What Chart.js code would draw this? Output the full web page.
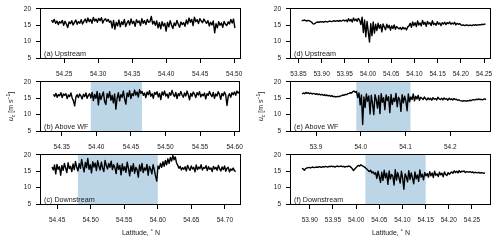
<!DOCTYPE html>
<html><head><meta charset="utf-8">
<script src="https://cdn.jsdelivr.net/npm/chart.js@4"></script>
<style>
html,body{margin:0;padding:0;background:#fff;width:500px;height:242px;overflow:hidden;position:relative}
canvas{position:absolute}
</style></head><body>
<canvas id="pa" width="250" height="80" style="left:0;top:0;width:250px;height:80px"></canvas>
<canvas id="pb" width="250" height="80" style="left:0;top:73px;width:250px;height:80px"></canvas>
<canvas id="pc" width="250" height="96" style="left:0;top:146px;width:250px;height:96px"></canvas>
<canvas id="pd" width="250" height="80" style="left:250px;top:0;width:250px;height:80px"></canvas>
<canvas id="pe" width="250" height="80" style="left:250px;top:73px;width:250px;height:80px"></canvas>
<canvas id="pf" width="250" height="96" style="left:250px;top:146px;width:250px;height:96px"></canvas>
<script>
// ---------- data (wind speed u_c, m/s, along latitude) ----------
const panelLabels = ['(a) Upstream','(b) Above WF','(c) Downstream','(d) Upstream','(e) Above WF','(f) Downstream'];
const yTickLabels = ['5','10','15','20'];

const latA = [54.2315, 54.501];
const axisA = [54.216, 54.51];
const ticksA = ['54.25','54.30','54.35','54.40','54.45','54.50'];
const upstreamA = [16.6,15.9,16.8,15.6,16.3,15.2,16.1,15.7,16.5,15.0,16.2,15.4,14.3,16.0,15.5,16.4,15.1,15.9,16.6,15.3,16.1,15.6,16.7,15.4,16.2,
16.9,15.8,17.2,16.1,16.8,15.6,17.4,16.3,16.9,15.9,17.1,16.4,17.3,15.7,16.6,17.0,16.2,16.8,15.9,
16.3,14.2,16.5,13.8,15.9,14.8,16.6,14.5,16.1,15.2,16.8,14.6,15.7,
16.4,15.1,16.9,15.5,16.2,14.7,16.7,15.8,16.3,14.9,17.0,15.6,16.4,15.2,16.8,15.9,16.1,
17.7,15.4,16.2,
15.0,16.3,14.2,15.8,13.9,16.1,14.8,15.6,13.2,15.9,14.5,16.4,15.1,14.0,15.7,14.9,16.5,15.3,14.4,16.0,15.2,15.8,14.7,
16.6,15.4,17.2,15.9,16.8,14.9,17.5,16.1,16.7,15.5,17.0,16.3,15.8,16.9,16.2,
15.6,16.4,14.8,15.9,15.1,16.3,12.7,15.5,14.2,16.1,15.0,15.7,14.4,16.2,15.3,14.9,16.0,15.4,16.8,15.7,16.9,14.1];

const latB = [54.338, 54.607];
const axisB = [54.320, 54.608];
const ticksB = ['54.35','54.40','54.45','54.50','54.55','54.60'];
const shadeB = [54.392, 54.466];
const aboveWfB = [16.2,15.6,16.5,15.3,16.1,15.8,16.7,15.2,16.3,15.9,16.4,14.9,16.0,15.5,16.6,15.1,14.2,12.7,
15.4,16.1,15.2,16.3,15.7,14.8,16.2,15.5,16.6,15.0,15.9,16.4,
15.1,16.8,14.3,16.2,15.0,17.1,13.0,16.5,14.6,15.8,16.9,14.0,13.1,16.4,15.2,17.0,14.4,15.9,13.6,16.3,11.7,15.0,16.7,14.2,16.1,15.3,17.2,14.8,13.2,16.6,15.5,17.3,14.9,16.4,15.8,17.5,16.0,16.9,15.4,17.6,16.5,
17.1,15.9,16.6,15.2,16.9,16.1,17.3,15.6,16.4,15.0,16.8,16.2,17.0,15.4,16.5,14.6,16.9,16.0,17.2,15.7,16.3,15.1,16.7,15.9,17.4,16.2,15.5,16.8,14.9,16.4,15.8,17.1,16.0,15.3,16.6,15.7,17.2,16.1,14.5,16.5,15.6,16.9,16.3,15.2,16.7,16.0,17.0,15.4,16.2,15.8,16.6,14.8,16.4,15.9,17.1,16.1,15.5,16.8,15.0,16.3,15.7,17.0,16.2,14.7,16.5,15.8,16.9,16.0,12.8,15.6,16.4,15.3,16.7,16.1,16.9,15.9,17.2,16.6,17.0];

const latC = [54.4425, 54.716];
const axisC = [54.426, 54.724];
const ticksC = ['54.45','54.50','54.55','54.60','54.65','54.70'];
const shadeC = [54.481, 54.600];
const downstreamC = [16.3,15.4,16.9,14.2,17.1,15.6,16.4,13.8,16.8,15.3,17.4,16.0,14.6,17.6,15.8,16.5,14.9,17.2,15.5,18.0,16.2,15.1,
17.3,15.9,18.6,16.4,14.8,17.7,16.1,18.9,15.6,17.0,14.5,17.9,16.3,17.5,15.2,18.2,16.6,15.4,17.8,16.0,14.9,18.3,16.8,15.7,17.4,16.2,18.1,15.5,17.0,
16.1,14.3,17.5,15.6,16.8,13.9,17.2,15.2,16.4,14.7,17.8,15.9,13.6,16.6,15.0,17.3,14.4,16.2,15.5,13.2,16.9,15.1,17.4,14.6,16.0,15.3,17.1,13.8,16.5,15.7,14.2,17.0,15.4,13.5,12.0,
16.6,15.8,17.4,16.2,17.9,16.5,18.3,17.0,18.8,17.4,19.2,18.1,19.8,18.5,19.4,17.6,16.8,15.9,16.5,15.4,16.1,
15.6,16.4,15.1,16.8,15.9,15.3,16.6,15.7,16.2,14.8,16.9,15.5,16.3,15.8,17.0,15.4,16.1,15.9,16.7,15.2,16.4,15.6,16.0,14.9,16.5,15.7,16.2,15.3,16.8,15.8,15.1,16.3,15.5,16.6,15.0,15.9,16.2,14.8,15.7,15.3,16.0,15.2,14.9];

const latD = [53.857, 54.253];
const axisD = [53.834, 54.265];
const ticksD = ['53.85','53.90','53.95','54.00','54.05','54.10','54.15','54.20','54.25'];
const upstreamD = [16.5,16.4,16.6,16.5,16.3,16.5,16.4,16.2,16.0,
15.5,15.4,15.6,
15.9,16.0,15.9,16.1,16.0,16.1,15.9,16.2,16.1,16.0,16.2,16.3,16.1,16.2,16.4,16.2,16.3,16.4,16.2,16.5,16.3,16.4,16.6,16.3,
16.6,16.1,17.0,16.3,16.8,16.0,17.2,16.4,16.9,16.2,17.1,16.5,
15.2,17.5,12.8,16.6,11.5,16.2,13.0,9.9,15.5,11.8,16.0,12.6,15.3,
13.4,15.6,14.1,15.2,13.0,15.4,14.5,13.6,15.3,14.2,15.0,13.5,14.8,14.0,15.1,13.8,14.6,14.2,
13.9,14.3,13.7,14.4,13.9,14.2,13.6,14.5,14.8,
15.6,14.4,16.0,14.9,15.8,14.6,16.3,15.1,15.7,14.8,16.5,15.3,15.9,14.7,16.2,15.4,15.8,14.9,16.4,15.2,15.6,15.0,16.1,15.3,15.7,14.9,15.8,
15.4,15.9,15.2,15.8,15.5,16.0,15.3,15.7,15.4,15.9,15.1,15.6,15.3,15.5,
15.2,15.0,15.1,14.9,15.0,15.1,14.9,15.0,15.0,14.9,15.1,15.0,15.2,15.0,15.1,15.2,15.1,15.3,15.2,15.3,15.4];

const latE = [53.869, 54.28];
const axisE = [53.844, 54.291];
const ticksE = ['53.9','54.0','54.1','54.2'];
const shadeE = [53.99, 54.111];
const aboveWfE = [16.3,16.6,16.4,16.8,16.5,16.7,16.4,16.6,16.3,16.5,
16.4,16.2,16.4,16.1,16.3,16.0,16.2,15.9,16.1,15.8,16.0,15.7,15.9,15.6,15.8,15.5,
15.6,15.4,15.5,15.6,15.5,
15.7,15.8,16.0,15.9,16.2,16.1,16.4,16.5,16.7,16.6,17.0,17.2,16.8,17.1,
15.2,16.6,13.0,16.0,7.0,15.4,12.2,16.3,14.1,15.7,10.2,15.9,13.4,10.0,16.1,14.6,12.0,15.8,10.3,16.4,13.8,15.2,11.5,16.0,14.3,15.5,10.6,16.2,13.1,15.0,14.0,16.5,12.4,15.3,14.7,11.0,16.1,13.6,15.6,14.2,11.2,16.3,13.9,15.4,
14.6,16.3,14.2,15.6,14.8,15.9,14.4,15.3,15.0,14.6,15.4,14.8,
14.5,15.1,14.6,15.0,14.4,15.2,14.7,14.9,14.5,15.3,14.8,14.6,15.0,14.5,15.1,14.7,14.9,14.4,15.0,14.6,14.8,14.5,14.9,14.6,14.7,14.4,14.5,
14.3,14.2,14.1,14.3,14.2,14.1,14.3,14.2,14.4,14.3,14.5,
14.6,14.5,14.7,14.6,14.8,14.6,14.7,14.5,14.7,14.8,14.6];

const latF = [53.883, 54.278];
const axisF = [53.8595, 54.291];
const ticksF = ['53.90','53.95','54.00','54.05','54.10','54.15','54.20','54.25'];
const shadeF = [54.02, 54.15];
const downstreamF = [15.9,15.7,15.3,15.8,16.0,
16.1,16.2,16.0,16.2,16.3,16.1,16.2,16.3,16.2,16.4,16.3,16.2,16.4,16.3,16.5,16.4,16.3,16.5,16.4,16.6,16.4,16.5,16.3,16.5,16.6,16.4,16.5,16.6,16.4,16.5,16.3,16.5,16.4,16.6,16.5,
16.2,15.8,15.2,15.7,16.1,
16.5,16.8,16.6,17.0,16.7,16.5,16.3,
15.9,15.6,15.2,14.9,15.3,14.5,14.8,14.1,14.6,
12.8,15.0,13.4,11.6,14.7,12.2,15.3,13.0,14.4,11.0,15.1,12.6,14.0,13.5,10.8,15.5,12.3,14.6,13.1,11.4,15.0,12.9,9.5,14.2,13.3,11.8,15.2,12.5,14.5,13.0,11.2,14.8,12.7,13.9,11.9,15.4,13.2,14.1,12.4,14.6,13.6,
14.3,13.2,14.9,13.6,14.5,13.1,15.0,13.8,14.2,13.4,14.7,13.9,14.4,13.3,14.8,14.0,13.7,14.6,14.1,14.5,
14.8,14.4,15.1,14.6,15.0,14.5,15.2,14.7,15.0,14.9,15.1,14.6,14.9,14.8,
14.7,14.9,14.6,14.8,14.5,14.7,14.6,14.5,14.7,14.4,14.6,14.5,14.4,14.5];

// ---------- drawing ----------
const FONT = '"Liberation Sans", Arial, Helvetica, sans-serif';
Chart.defaults.font.family = FONT;
const TXT = '#1a1a1a';
const SHADE = '#bcd6e8';

function drawYTitle(ctx, cx, cy) {
  const parts = [
    {t:'u', f:'italic 7px ' + FONT, dy:0},
    {t:'c', f:'italic 5px ' + FONT, dy:1.6},
    {t:' [m s', f:'7px ' + FONT, dy:0},
    {t:'\u22121', f:'5px ' + FONT, dy:-2.8},
    {t:']', f:'7px ' + FONT, dy:0}
  ];
  ctx.save();
  ctx.translate(cx, cy);
  ctx.rotate(-Math.PI / 2);
  let w = 0;
  parts.forEach(p => { ctx.font = p.f; p.w = ctx.measureText(p.t).width; w += p.w; });
  let x = -w / 2;
  ctx.fillStyle = TXT;
  ctx.textBaseline = 'alphabetic';
  parts.forEach(p => { ctx.font = p.f; ctx.fillText(p.t, x, 2.5 + p.dy); x += p.w; });
  ctx.restore();
}

const extras = {
  id: 'extras',
  beforeDatasetsDraw(chart, args, o) {
    const {ctx, chartArea: a, scales: {x}} = chart;
    if (o.shade) {
      const x0 = x.getPixelForValue(o.shade[0]);
      const x1 = x.getPixelForValue(o.shade[1]);
      ctx.save();
      ctx.fillStyle = SHADE;
      ctx.fillRect(x0, a.top, x1 - x0, a.bottom - a.top);
      ctx.restore();
    }
  },
  afterDraw(chart, args, o) {
    const {ctx, chartArea: a} = chart;
    ctx.save();
    ctx.strokeStyle = '#000';
    ctx.lineWidth = 1;
    ctx.strokeRect(Math.round(a.left) - 0.5, Math.round(a.top) - 0.5,
                   Math.round(a.right - a.left), Math.round(a.bottom - a.top) + 1);
    ctx.fillStyle = TXT;
    ctx.font = '7.2px ' + FONT;
    ctx.textAlign = 'left';
    ctx.textBaseline = 'alphabetic';
    ctx.fillText(o.label, a.left + 3, a.bottom - 2);
    if (o.xtitle) {
      ctx.font = '7px ' + FONT;
      ctx.textAlign = 'center';
      ctx.textBaseline = 'middle';
      ctx.fillText('Latitude, \u02DA N', (a.left + a.right) / 2, a.bottom + 29);
    }
    ctx.restore();
    if (o.ytitle) drawYTitle(ctx, a.left - 30.5, (a.top + a.bottom) / 2);
  }
};

function makePanel(id, cfg) {
  const canvas = document.getElementById(id);
  const H = canvas.height;
  const n = cfg.values.length;
  const pts = cfg.values.map((v, i) => ({x: cfg.lat[0] + (cfg.lat[1] - cfg.lat[0]) * i / (n - 1), y: v}));
  const xt = cfg.ticks.map(parseFloat);
  const yt = yTickLabels.map(parseFloat);
  new Chart(canvas, {
    type: 'line',
    data: {datasets: [{data: pts, borderColor: '#000', borderWidth: 1.4, pointRadius: 0, tension: 0, fill: false, borderJoinStyle: 'round'}]},
    plugins: [extras],
    options: {
      responsive: false, animation: false, events: [], parsing: false,
      layout: {padding: {top: 6, right: 9, left: 0, bottom: H - 6 - 52 - 22}},
      plugins: {
        legend: {display: false}, tooltip: {enabled: false},
        extras: {label: cfg.label, shade: cfg.shade, ytitle: cfg.ytitle, xtitle: cfg.xtitle}
      },
      scales: {
        x: {
          type: 'linear', min: cfg.axis[0], max: cfg.axis[1],
          afterBuildTicks: s => { s.ticks = xt.map(v => ({value: v})); },
          afterFit: s => { s.height = 22; },
          ticks: {callback: (v, i) => cfg.ticks[i], autoSkip: false, maxRotation: 0, minRotation: 0,
                  padding: 7, color: TXT, font: {size: 6.5}},
          grid: {display: true, drawOnChartArea: false, drawTicks: true, tickLength: 5, color: '#000', lineWidth: 1},
          border: {display: false}
        },
        y: {
          type: 'linear', min: 5, max: 20, position: 'left',
          afterBuildTicks: s => { s.ticks = yt.map(v => ({value: v})); },
          afterFit: s => { s.width = 41; },
          ticks: {callback: (v, i) => yTickLabels[i], padding: 5, color: TXT, font: {size: 6.5}},
          grid: {display: true, drawOnChartArea: false, drawTicks: true, tickLength: 5, color: '#000', lineWidth: 1},
          border: {display: false}
        }
      }
    }
  });
}

makePanel('pa', {values: upstreamA, lat: latA, axis: axisA, ticks: ticksA, label: panelLabels[0]});
makePanel('pb', {values: aboveWfB, lat: latB, axis: axisB, ticks: ticksB, shade: shadeB, label: panelLabels[1], ytitle: true});
makePanel('pc', {values: downstreamC, lat: latC, axis: axisC, ticks: ticksC, shade: shadeC, label: panelLabels[2], xtitle: true});
makePanel('pd', {values: upstreamD, lat: latD, axis: axisD, ticks: ticksD, label: panelLabels[3]});
makePanel('pe', {values: aboveWfE, lat: latE, axis: axisE, ticks: ticksE, shade: shadeE, label: panelLabels[4], ytitle: true});
makePanel('pf', {values: downstreamF, lat: latF, axis: axisF, ticks: ticksF, shade: shadeF, label: panelLabels[5], xtitle: true});
</script>
</body></html>
